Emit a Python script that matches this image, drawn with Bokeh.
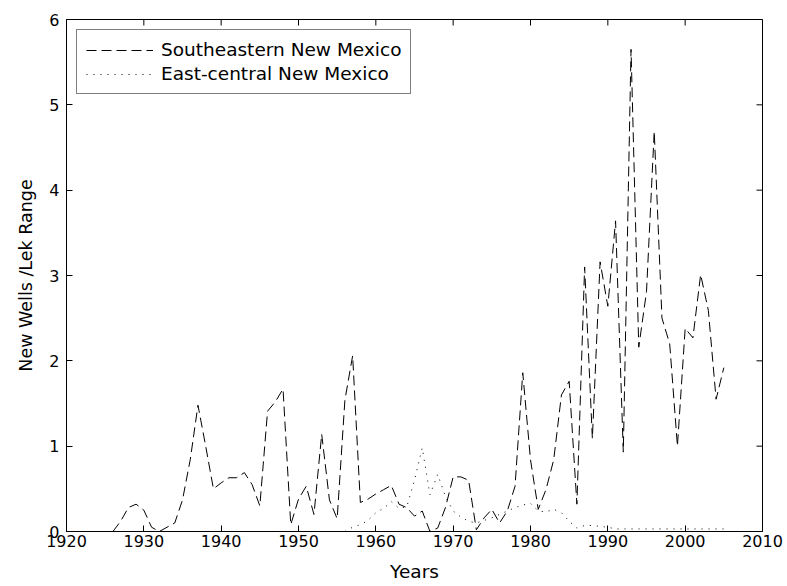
import math
from bokeh.plotting import figure
from bokeh.models import Range1d, Legend, LegendItem, FixedTicker, ColumnDataSource
from bokeh.embed import file_html
from bokeh.resources import INLINE

# ---- data ----
se_years = list(range(1926, 2006))
se_values = [0.00, 0.12, 0.28, 0.32, 0.25, 0.05, 0.00, 0.05, 0.10, 0.37,
             0.84, 1.48, 1.00, 0.50, 0.57, 0.63, 0.63, 0.69, 0.55, 0.30,
             1.41, 1.52, 1.67, 0.08, 0.38, 0.53, 0.20, 1.14, 0.37, 0.15,
             1.54, 2.06, 0.34, 0.38, 0.44, 0.49, 0.54, 0.32, 0.28, 0.18,
             0.24, 0.00, 0.04, 0.28, 0.64, 0.64, 0.60, 0.02, 0.16, 0.26,
             0.10, 0.24, 0.53, 1.86, 0.84, 0.26, 0.49, 0.84, 1.60, 1.76,
             0.32, 3.10, 1.09, 3.16, 2.64, 3.64, 0.93, 5.65, 2.16, 2.81,
             4.69, 2.50, 2.20, 1.00, 2.38, 2.27, 3.01, 2.59, 1.55, 1.92]

ec_years = list(range(1937, 2006))
ec_values = [0.00] * 20 + [
             0.05, 0.08, 0.13, 0.22, 0.27, 0.35, 0.27, 0.29, 0.60, 0.98,
             0.43, 0.67, 0.41, 0.24, 0.17, 0.12, 0.10, 0.13, 0.16, 0.20,
             0.24, 0.28, 0.31, 0.33, 0.24, 0.23, 0.26, 0.22, 0.12, 0.04,
             0.07, 0.07, 0.06, 0.05] + [0.03] * 15

series_labels = ["Southeastern New Mexico", "East-central New Mexico"]
x_ticks = list(range(1920, 2011, 10))
y_ticks = list(range(0, 7))
x_title = "Years"
y_title = "New Wells /Lek Range"

FONT = "DejaVu Sans"
X0, X1 = x_ticks[0], x_ticks[-1]
Y0, Y1 = y_ticks[0], y_ticks[-1]

p = figure(width=787, height=586,
           x_range=Range1d(X0, X1), y_range=Range1d(Y0, Y1),
           output_backend="svg", toolbar_location=None,
           min_border_left=66, min_border_right=25,
           min_border_top=19, min_border_bottom=55,
           background_fill_color="white", border_fill_color="white")
p.grid.visible = False
p.outline_line_color = "black"
p.outline_line_width = 1

src_se = ColumnDataSource(dict(x=se_years, y=se_values))
src_ec = ColumnDataSource(dict(x=ec_years, y=ec_values))
r1 = p.line("x", "y", source=src_se, line_color="black", line_width=1,
            line_dash="10 5")
r2 = p.line("x", "y", source=src_ec, line_color="black", line_width=1,
            line_dash="1 6")

def style_axis(ax, ticks):
    ax.ticker = FixedTicker(ticks=ticks)
    ax.major_tick_in = 6
    ax.major_tick_out = 0
    ax.minor_tick_in = 0
    ax.minor_tick_out = 0
    ax.axis_line_color = "black"
    ax.major_tick_line_color = "black"
    ax.major_label_text_font = FONT
    ax.major_label_text_color = "black"
    ax.major_label_text_font_size = "16px"

xb = p.xaxis[0]
style_axis(xb, x_ticks)
xb.major_label_standoff = 3
xb.axis_label = x_title
xb.axis_label_text_font = FONT
xb.axis_label_text_font_size = "18.5px"
xb.axis_label_text_font_style = "normal"
xb.axis_label_text_color = "black"
xb.axis_label_standoff = 11

yl = p.yaxis[0]
style_axis(yl, y_ticks)
yl.major_label_standoff = 7
yl.axis_label = y_title
yl.axis_label_text_font = FONT
yl.axis_label_text_font_size = "17.5px"
yl.axis_label_text_font_style = "normal"
yl.axis_label_text_color = "black"
yl.axis_label_standoff = 10

# inward tick marks on the top and right edges of the box (clipped to the frame)
p.scatter(x=[X1] * len(y_ticks), y=y_ticks, marker="dash", size=12,
          line_color="black", line_width=1)
p.scatter(x=x_ticks, y=[Y1] * len(x_ticks), marker="dash", size=12,
          angle=math.pi / 2, line_color="black", line_width=1)

legend = Legend(items=[LegendItem(label=series_labels[0], renderers=[r1]),
                       LegendItem(label=series_labels[1], renderers=[r2])],
                location="top_left")
legend.margin = 10
legend.padding = 9
legend.spacing = 3
legend.glyph_width = 67
legend.glyph_height = 20
legend.label_height = 20
legend.label_standoff = 8
legend.label_text_font = FONT
legend.label_text_font_size = "18.5px"
legend.label_text_color = "black"
legend.border_line_color = "black"
legend.border_line_width = 1
legend.background_fill_color = "white"
legend.background_fill_alpha = 1.0
p.add_layout(legend)

open("out.html", "w").write(file_html(p, INLINE))
